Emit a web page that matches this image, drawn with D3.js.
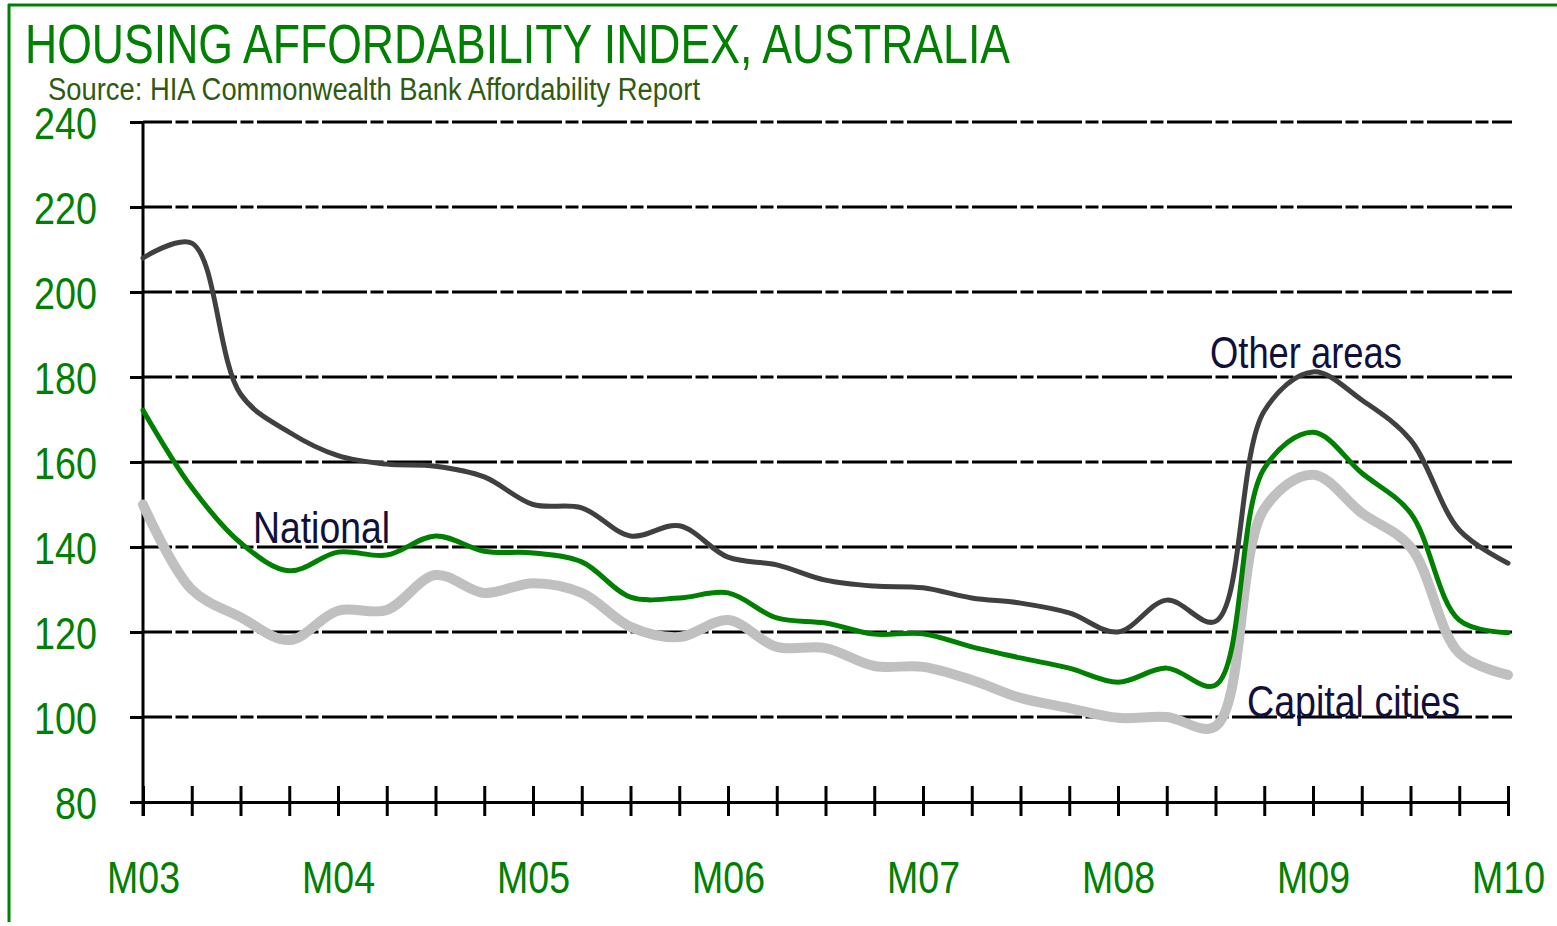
<!DOCTYPE html>
<html>
<head>
<meta charset="utf-8">
<script src="https://cdn.jsdelivr.net/npm/d3@7"></script>
<style>
  html, body { margin: 0; padding: 0; background: #fff; }
  svg { display: block; }
</style>
</head>
<body>
<main></main>
<script>
// quarterly points, March 2003 .. March 2010
const years = ["03", "04", "05", "06", "07", "08", "09", "10"]
const quarters = years.flatMap(y => ["M", "J", "S", "D"].map(q => q + y)).slice(0, 29)
const yTicks = [80, 100, 120, 140, 160, 180, 200, 220, 240]

const otherAreas = [208, 211.5, 176, 167, 161.5, 159.5, 159, 156.5, 150, 149.2, 142.6, 145, 137.6, 135.8,
    132.2, 130.8, 130.4, 128, 126.8, 124.5, 120, 127.5, 122.5, 172, 181.2, 174.6, 165.2, 144, 136.2]
const national = [172.2, 154, 141, 134.4, 138.8, 138.1, 142.6, 139, 138.6, 136.5, 128.2, 128, 129.2, 123.3,
    122.1, 119.5, 119.6, 116.5, 113.9, 111.5, 108.2, 111.5, 107.5, 158.5, 167, 157.4, 148, 122.8, 119.8]
const capitalCities = [150, 130, 123.5, 118.1, 125, 125.2, 133.4, 129.2, 131.5, 129.2, 121.2, 118.8, 122.8, 116.5,
    116.2, 112, 111.8, 108.7, 104.5, 102.1, 99.8, 100, 97.8, 149, 157, 148, 140, 115, 109.9]

const width = 1557, height = 926
const margin = { top: 122, right: 49, bottom: 124, left: 143 }
const FONT = "'Liberation Sans Narrow','Arial Narrow',Arial,sans-serif"
const GREEN = "#008000"

let svg = d3.select("main")
    .append("svg")
    .attr("width", width)
    .attr("height", height)
    .attr("viewBox", [0, 0, width, height])

// frame
svg.append("line").attr("x1", 8).attr("x2", width).attr("y1", 5).attr("y2", 5)
    .attr("stroke", GREEN).attr("stroke-width", 3)
svg.append("line").attr("x1", 9).attr("x2", 9).attr("y1", 4).attr("y2", 922)
    .attr("stroke", GREEN).attr("stroke-width", 3)

// titles
svg.append("text")
    .attr("x", 25).attr("y", 63)
    .attr("font-family", FONT).attr("font-size", 55)
    .attr("fill", GREEN)
    .attr("textLength", 985).attr("lengthAdjust", "spacingAndGlyphs")
    .text("HOUSING AFFORDABILITY INDEX, AUSTRALIA")

svg.append("text")
    .attr("x", 48).attr("y", 100)
    .attr("font-family", FONT).attr("font-size", 31)
    .attr("fill", "#2f5a10")
    .attr("textLength", 652).attr("lengthAdjust", "spacingAndGlyphs")
    .text("Source: HIA Commonwealth Bank Affordability Report")

const x = d3.scalePoint()
    .domain(quarters)
    .range([margin.left, width - margin.right])

const y = d3.scaleLinear()
    .domain([80, 240])
    .range([height - margin.bottom, margin.top])

// dashed grid lines
svg.append("g")
    .selectAll("line")
    .data(yTicks.filter(d => d > 80))
    .join("line")
    .attr("x1", margin.left)
    .attr("x2", 1512)
    .attr("y1", d => y(d))
    .attr("y2", d => y(d))
    .attr("stroke", "#000")
    .attr("stroke-width", 3)
    .attr("stroke-dasharray", "45,3.5,13,3.5")
    .attr("stroke-dashoffset", 16)

// y axis
let yAxis = svg.append("g")
    .attr("transform", `translate(${margin.left},0)`)
    .call(d3.axisLeft(y).tickValues(yTicks).tickSize(13).tickSizeOuter(0).tickPadding(33))
yAxis.select(".domain").remove()
yAxis.selectAll("line").attr("stroke", "#000").attr("stroke-width", 3)
yAxis.append("line")
    .attr("x1", 0).attr("x2", 0)
    .attr("y1", margin.top - 1).attr("y2", height - margin.bottom + 14)
    .attr("stroke", "#000").attr("stroke-width", 3)
yAxis.selectAll(".tick text")
    .attr("font-family", FONT).attr("font-size", 45)
    .attr("fill", GREEN)
    .attr("dy", "0.36em")
    .attr("textLength", d => String(d).length * 21)
    .attr("lengthAdjust", "spacingAndGlyphs")

// x axis
let xAxis = svg.append("g")
    .attr("transform", `translate(0,${height - margin.bottom})`)
    .call(d3.axisBottom(x).tickSize(14).tickSizeOuter(0)
        .tickFormat(d => d.startsWith("M") ? "M" + d.slice(1) : ""))
xAxis.select(".domain").attr("stroke", "#000").attr("stroke-width", 3)
xAxis.selectAll(".tick line").attr("y1", -16).attr("stroke", "#000").attr("stroke-width", 3)
xAxis.selectAll(".tick text")
    .filter(d => d.startsWith("M"))
    .attr("font-family", FONT).attr("font-size", 44)
    .attr("fill", GREEN)
    .attr("y", 91).attr("dy", 0)
    .attr("textLength", 73)
    .attr("lengthAdjust", "spacingAndGlyphs")

// series
const line = d3.line()
    .x((d, i) => x(quarters[i]))
    .y(d => y(d))
    .curve(d3.curveCatmullRom.alpha(0.5))

const series = [
    { values: capitalCities, color: "#c0c0c0", w: 10 },
    { values: national, color: GREEN, w: 5 },
    { values: otherAreas, color: "#404040", w: 5 }
]

svg.append("g")
    .selectAll("path")
    .data(series)
    .join("path")
    .attr("fill", "none")
    .attr("stroke", d => d.color)
    .attr("stroke-width", d => d.w)
    .attr("stroke-linejoin", "round")
    .attr("stroke-linecap", "round")
    .attr("d", d => line(d.values))

// series labels
const labels = [
    { text: "Other areas", x: 1210, y: 368, len: 192 },
    { text: "National", x: 253, y: 543, len: 137 },
    { text: "Capital cities", x: 1247, y: 717, len: 213 }
]

svg.append("g")
    .selectAll("text")
    .data(labels)
    .join("text")
    .attr("x", d => d.x)
    .attr("y", d => d.y)
    .attr("font-family", FONT)
    .attr("font-size", 44)
    .attr("fill", "#10103a")
    .attr("textLength", d => d.len)
    .attr("lengthAdjust", "spacingAndGlyphs")
    .text(d => d.text)
</script>
</body>
</html>
